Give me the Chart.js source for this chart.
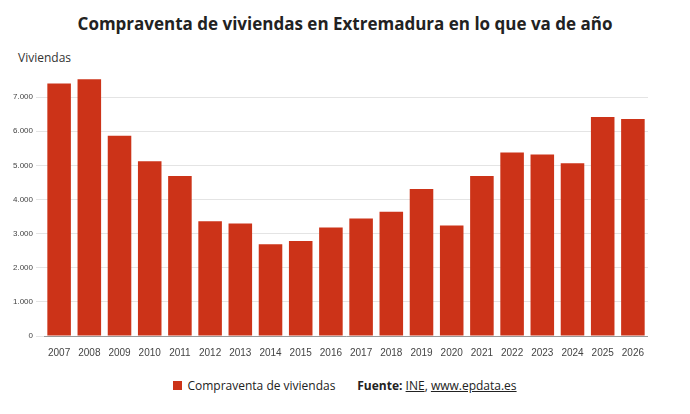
<!DOCTYPE html>
<html>
<head>
<meta charset="utf-8">
<script src="https://cdn.jsdelivr.net/npm/chart.js@4"></script>
<style>
  body { margin: 0; width: 690px; height: 414px; background: #fff; font-family: "Open Sans", sans-serif; }
  #titulo { position: absolute; top: 12px; left: 0; width: 690px; text-align: center; font-size: 17px; font-weight: bold; color: #222; }
  #unidad { position: absolute; top: 49px; left: 18px; font-size: 12px; color: #333; }
  #lienzo { position: absolute; top: 62px; left: 10px; width: 638px; height: 300px; }
  #pie { position: absolute; top: 377px; left: 0; width: 690px; text-align: center; font-size: 12px; color: #222; }
  .cuadro { display: inline-block; width: 9px; height: 9px; background: #cc3318; margin-right: 5px; }
  a { color: #222; text-decoration: underline; }
</style>
</head>
<body>
<div id="titulo">Compraventa de viviendas en Extremadura en lo que va de año</div>
<div id="unidad">Viviendas</div>
<div id="lienzo"><canvas id="grafico"></canvas></div>
<div id="pie"><span class="cuadro"></span>Compraventa de viviendas &nbsp;&nbsp;&nbsp;&nbsp;&nbsp; <b>Fuente:</b> <a>INE</a>, <a>www.epdata.es</a></div>
<script>
// Datos
const anios = ['2007','2008','2009','2010','2011','2012','2013','2014','2015','2016','2017','2018','2019','2020','2021','2022','2023','2024','2025','2026'];
const compraventas = [7400,7520,5870,5120,4690,3360,3300,2690,2780,3180,3440,3640,4310,3240,4690,5380,5320,5060,6420,6360];

const ctx = document.getElementById('grafico').getContext('2d');
new Chart(ctx, {
    type: 'bar',
    data: {
        labels: anios,
        datasets: [{
            label: 'Compraventa de viviendas',
            data: compraventas,
            backgroundColor: '#cc3318',
            categoryPercentage: 0.78,
            barPercentage: 1
        }]
    },
    options: {
        responsive: true,
        maintainAspectRatio: false,
        animation: false,
        plugins: { legend: { display: false }, tooltip: { enabled: false } },
        scales: {
            x: {
                grid: { display: false },
                border: { color: '#999' },
                ticks: { color: '#444', font: { size: 10 } }
            },
            y: {
                min: 0,
                max: 7800,
                afterBuildTicks: (eje) => { eje.ticks = [0,1000,2000,3000,4000,5000,6000,7000].map(v => ({ value: v })); },
                grid: { color: '#e4e4e4' },
                border: { display: false },
                ticks: {
                    color: '#444',
                    font: { size: 8 },
                    callback: (v) => v === 0 ? '0' : v.toLocaleString('es-ES').replace(/(\d)(\d{3})$/, '$1.$2')
                }
            }
        }
    }
});
</script>
</body>
</html>
